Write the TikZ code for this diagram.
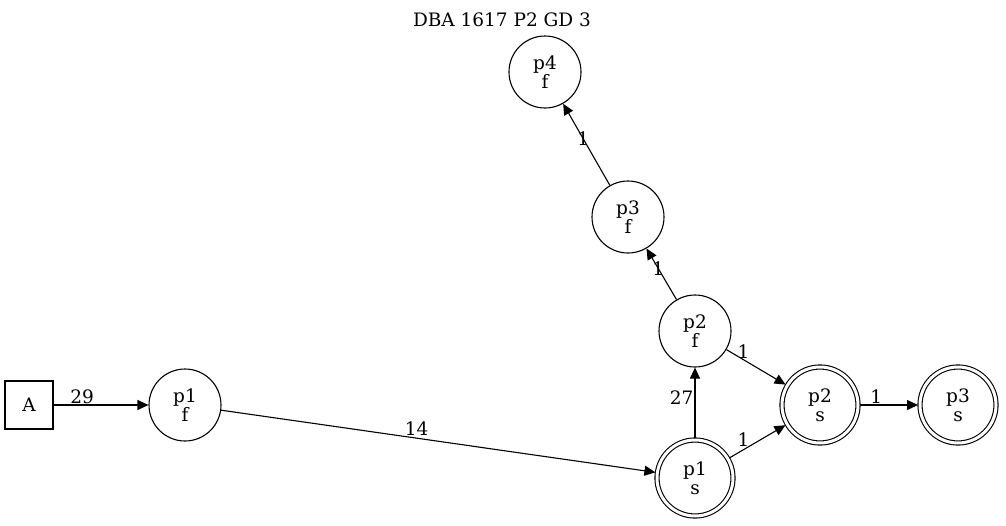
\documentclass[tikz,border=0pt]{standalone}
\usepackage{fontspec}
\setmainfont{DejaVu Serif}
\usetikzlibrary{arrows.meta}
\begin{document}
\begin{tikzpicture}[x=1pt,y=-1pt,
  every node/.style={font=\fontsize{18.5}{19}\selectfont},
  st/.style={draw,circle,line width=1.1pt,minimum size=72pt,inner sep=0pt,align=center},
  dst/.style={draw,circle,line width=1.1pt,double,double distance=3pt,minimum size=76pt,inner sep=0pt,outer sep=2pt,align=center},
  bx/.style={draw,rectangle,line width=1.1pt,minimum size=48pt,inner sep=0pt},
  ed/.style={draw,line width=1.1pt,-{Triangle[length=11pt,width=10pt]}},
  lb/.style={inner sep=1pt}]
\useasboundingbox (0,0) rectangle (1006,525);
\node (title) at (502,20) {DBA 1617 P2 GD 3};
\node[bx] (A) at (29,405) {A};
\node[st] (p1f) at (185,405) {p1\\f};
\node[dst] (p1s) at (695,478) {p1\\s};
\node[st] (p2f) at (695,331) {p2\\f};
\node[dst] (p2s) at (820,405) {p2\\s};
\node[dst] (p3s) at (958,405) {p3\\s};
\node[st] (p3f) at (628,217) {p3\\f};
\node[st] (p4f) at (545,72) {p4\\f};
\draw[ed] (A) -- node[lb,pos=0.3,anchor=south] {29} (p1f);
\draw[ed] (p1f) -- node[lb,pos=0.45,anchor=south,yshift=1pt] {14} (p1s);
\draw[ed] (p1s) -- node[lb,pos=0.57,anchor=east] {27} (p2f);
\draw[ed] (p1s) -- node[lb,pos=0.25,anchor=south,yshift=2pt] {1} (p2s);
\draw[ed] (p2f) -- node[lb,pos=0.29,anchor=south] {1} (p2s);
\draw[ed] (p2s) -- node[lb,pos=0.28,anchor=south] {1} (p3s);
\draw[ed] (p2f) -- node[lb,pos=0.61] {1} (p3f);
\draw[ed] (p3f) -- node[lb,pos=0.57] {1} (p4f);
\end{tikzpicture}
\end{document}
